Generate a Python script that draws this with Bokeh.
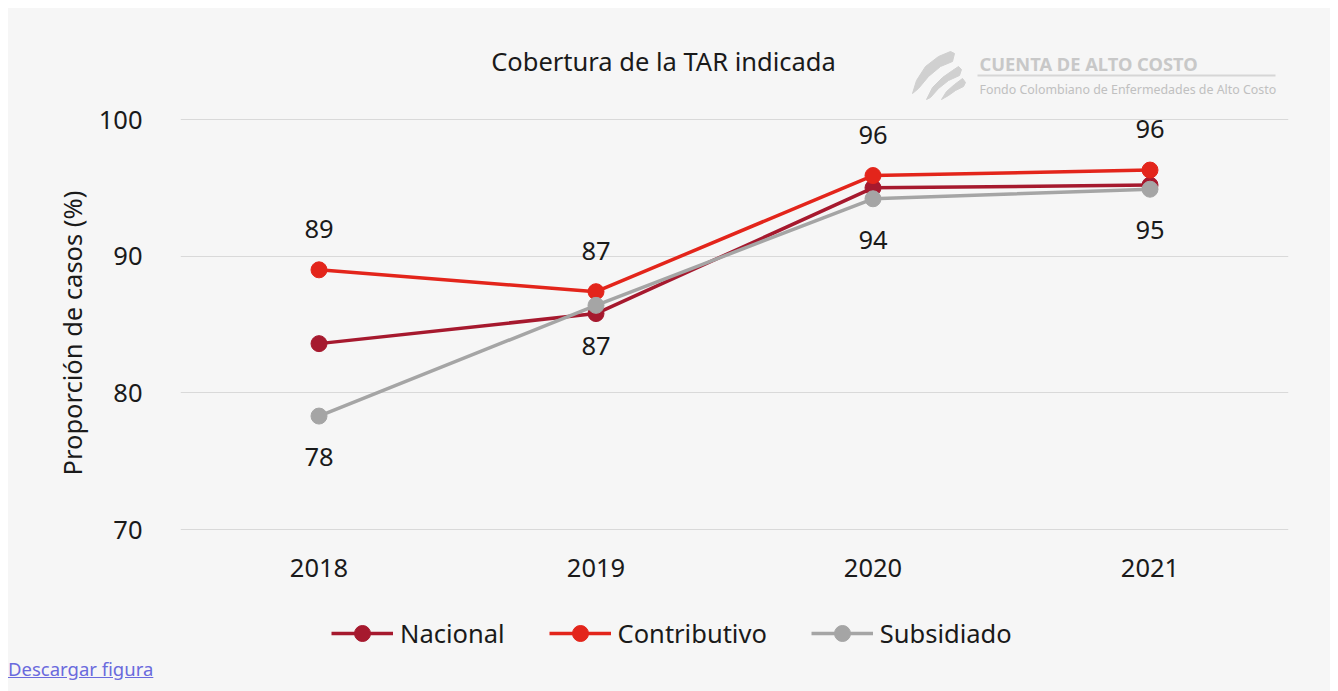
from bokeh.plotting import figure
from bokeh.models import Range1d, FixedTicker, Legend, LegendItem, Div, Title
from bokeh.layouts import column
from bokeh.embed import file_html
from bokeh.resources import INLINE
from bokeh.core.properties import value

# ---- data ----
years = [2018, 2019, 2020, 2021]
nacional = [83.6, 85.8, 95.0, 95.2]
contributivo = [89.0, 87.4, 95.9, 96.3]
subsidiado = [78.3, 86.4, 94.2, 94.9]
labels_contributivo = ["89", "87", "96", "96"]
labels_subsidiado = ["78", "87", "94", "95"]
y_ticks = [70, 80, 90, 100]
series_names = ["Nacional", "Contributivo", "Subsidiado"]

title_text = "Cobertura de la TAR indicada"
y_label = "Proporción de casos (%)"
logo_title = "CUENTA DE ALTO COSTO"
logo_sub = "Fondo Colombiano de Enfermedades de Alto Costo"

# ---- styling / layout ----
BG = "#f6f6f6"
FONT = "Noto Sans"
TXT = "#1a1a1a"
COLORS = ["#a6192e", "#e3251b", "#a5a5a5"]
ML, MR, MT = 172, 42, 20
FW, FH = 1108, 628
FRAME_BOTTOM = 8 + MT + FH          # page y of frame bottom
Y70 = 529                            # page y of the 70 gridline
px_per_unit = 410 / 30.0
y_start = 70 - (FRAME_BOTTOM - Y70) / px_per_unit
y_end = y_start + FH / px_per_unit

p = figure(frame_width=FW, frame_height=FH, output_backend="svg",
           toolbar_location=None,
           x_range=Range1d(2017.5, 2021.5), y_range=Range1d(y_start, y_end),
           min_border_left=ML, min_border_right=MR, min_border_top=MT,
           min_border_bottom=0)
p.background_fill_color = BG
p.border_fill_color = BG
p.outline_line_color = None

# page px -> data helpers for decorative elements
def dx(sx):
    return 2017.5 + (sx - (8 + ML)) / (FW / 4.0)

def dy(sy):
    return 70 + (Y70 - sy) / px_per_unit

# grid
p.xgrid.visible = False
p.ygrid.ticker = FixedTicker(ticks=y_ticks)
p.ygrid.grid_line_color = "#d9d9d9"
p.ygrid.grid_line_width = 1

# axes
p.yaxis.ticker = FixedTicker(ticks=y_ticks)
p.yaxis.axis_line_color = None
p.yaxis.major_tick_line_color = None
p.yaxis.minor_tick_line_color = None
p.yaxis.major_label_text_font = FONT
p.yaxis.major_label_text_font_size = "25.5px"
p.yaxis.major_label_text_color = TXT
p.yaxis.major_label_standoff = 32

# y-axis title, aligned to the 70-100 span
p.add_layout(Title(text=y_label, align="left", offset=FRAME_BOTTOM - 475, standoff=14,
                   text_font=FONT, text_font_size="25.5px",
                   text_font_style="normal", text_color=TXT), "left")

p.xaxis.ticker = FixedTicker(ticks=years)
p.xaxis.fixed_location = 70
p.xaxis.axis_line_color = None
p.xaxis.major_tick_line_color = None
p.xaxis.minor_tick_line_color = None
p.xaxis.major_label_text_font = FONT
p.xaxis.major_label_text_font_size = "25.5px"
p.xaxis.major_label_text_color = TXT
p.xaxis.major_label_standoff = 23

# series
items = []
for name, vals, col in zip(series_names, [nacional, contributivo, subsidiado], COLORS):
    r1 = p.line(years, vals, line_color=col, line_width=3.5)
    r2 = p.scatter(years, vals, size=16, fill_color=col, line_color=col)
    items.append(LegendItem(label=name, renderers=[r1, r2]))

# data labels
p.text(years, contributivo, text=labels_contributivo, text_align="center",
       text_baseline="middle", y_offset=-41, text_font=value(FONT),
       text_font_size="25.5px", text_color=TXT)
p.text(years, subsidiado, text=labels_subsidiado, text_align="center",
       text_baseline="middle", y_offset=41, text_font=value(FONT),
       text_font_size="25.5px", text_color=TXT)

# title
p.text([dx(663)], [dy(60)], text=[title_text], text_align="center",
       text_baseline="middle", text_font=value(FONT), text_font_size="25.5px",
       text_color=TXT)

# logo
p.text([dx(979)], [dy(63)], text=[logo_title], text_align="left",
       text_baseline="middle", text_font=value(FONT), text_font_size="18.3px",
       text_font_style="bold", text_color="#c8c8c8")
p.segment(x0=[dx(977)], y0=[dy(75)], x1=[dx(1275)], y1=[dy(75)],
          line_color="#d6d6d6", line_width=2)
p.text([dx(979)], [dy(89)], text=[logo_sub], text_align="left",
       text_baseline="middle", text_font=value(FONT), text_font_size="12.4px",
       text_color="#c0c0c0")
blades = [
    [(912, 93), (916, 80), (925, 66), (938, 56), (950, 51), (954, 53), (952, 61),
     (940, 66), (928, 76), (918, 88)],
    [(926, 99), (932, 87), (942, 77), (952, 70), (958, 66), (961, 69), (959, 75),
     (948, 80), (938, 88), (930, 97)],
    [(941, 99), (946, 91), (954, 84), (962, 78), (965, 82), (963, 86), (955, 90),
     (948, 95)],
]
p.patches([[dx(a) for a, b in bl] for bl in blades],
          [[dy(b) for a, b in bl] for bl in blades],
          fill_color="#d0d0d0", line_color="#d0d0d0", line_width=1)

# legend (offsets relative to frame bottom-left)
legend = Legend(items=items, orientation="horizontal", location=(151, 3),
                glyph_width=62, glyph_height=40, label_standoff=7, spacing=44,
                padding=0, margin=0, label_text_font=FONT,
                label_text_font_size="25.5px", label_text_color=TXT,
                background_fill_alpha=0, border_line_color=None)
p.add_layout(legend, "center")

link = Div(text='<a href="#" style="color:#6a6add;text-decoration:underline;">Descargar figura</a>',
           width=1322, height=35, margin=(0, 0, 0, 0),
           styles={"background-color": BG, "font-family": FONT, "font-size": "18.5px"})

layout = column(p, link, spacing=0, margin=(8, 0, 0, 8),
                styles={"background-color": BG})

open("out.html", "w").write(file_html(layout, INLINE))
